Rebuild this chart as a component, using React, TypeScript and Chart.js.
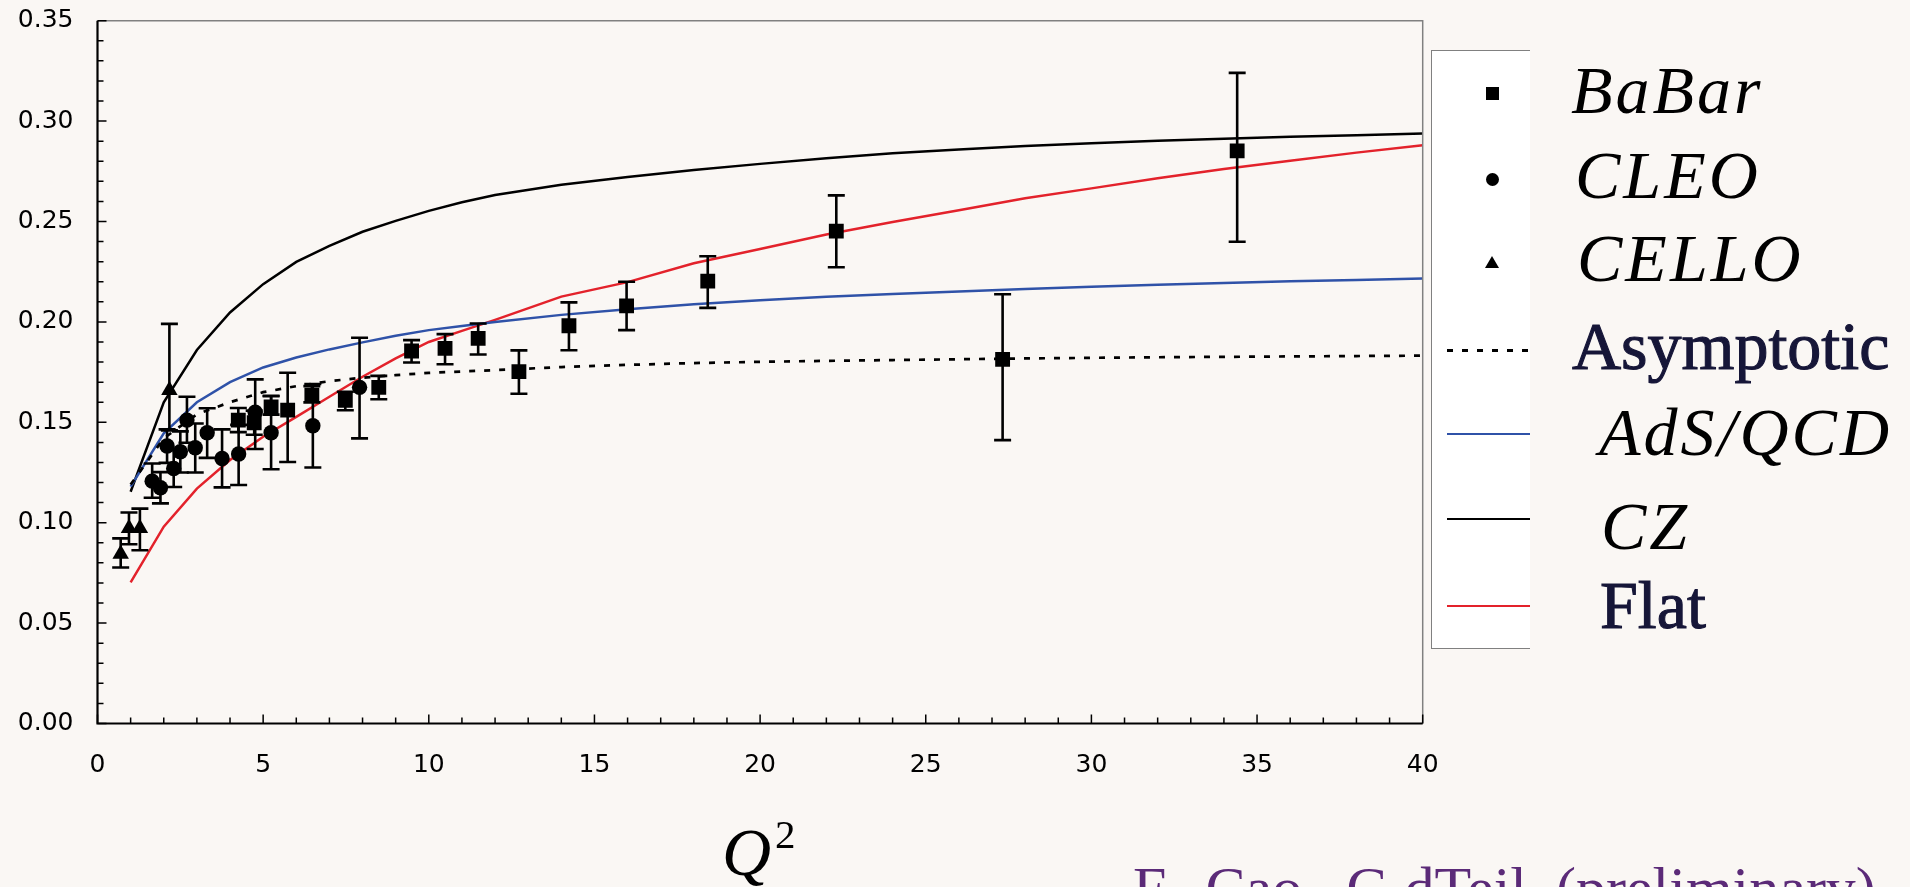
import React, { useEffect, useRef } from "react";
import { Chart, registerables } from "chart.js";

Chart.register(...registerables);

// ---------- data ----------
const curveQ2 = [1, 2, 3, 4, 5, 6, 7, 8, 9, 10, 11, 12, 14, 16, 18, 20, 22, 24, 26, 28, 30, 32, 34, 36, 38, 40];
const czValues = [0.1154, 0.16, 0.186, 0.2047, 0.2188, 0.2299, 0.2379, 0.2449, 0.2503, 0.2553, 0.2596, 0.2632, 0.2683, 0.2722, 0.2757, 0.2787, 0.2815, 0.284, 0.2859, 0.2876, 0.289, 0.2902, 0.2912, 0.2922, 0.293, 0.2938];
const adsValues = [0.118, 0.1445, 0.16, 0.17, 0.1773, 0.1823, 0.1863, 0.1898, 0.1931, 0.1959, 0.198, 0.2, 0.2035, 0.2063, 0.2088, 0.2108, 0.2125, 0.2139, 0.2152, 0.2164, 0.2175, 0.2185, 0.2194, 0.2202, 0.2209, 0.2216];
const flatValues = [0.0703, 0.098, 0.117, 0.1312, 0.1428, 0.1527, 0.1627, 0.1727, 0.1818, 0.19, 0.1955, 0.201, 0.2126, 0.2198, 0.2292, 0.2363, 0.2435, 0.2497, 0.2556, 0.2616, 0.2665, 0.2715, 0.2762, 0.2803, 0.2843, 0.288];
const asymptoticValues = [0.119, 0.142, 0.154, 0.16, 0.165, 0.168, 0.1705, 0.1722, 0.1735, 0.1746, 0.1753, 0.176, 0.1775, 0.1786, 0.1795, 0.1801, 0.1806, 0.181, 0.1814, 0.1818, 0.1821, 0.1824, 0.1826, 0.1828, 0.183, 0.1832];

const babarQ2 = [4.25, 4.73, 5.24, 5.74, 6.47, 7.48, 8.49, 9.48, 10.49, 11.49, 12.72, 14.23, 15.97, 18.42, 22.3, 27.32, 34.4];
const babarF = [0.1511, 0.1498, 0.1577, 0.1561, 0.1635, 0.161, 0.1674, 0.1855, 0.1868, 0.1918, 0.1752, 0.1981, 0.208, 0.2203, 0.2452, 0.1813, 0.2852];
const babarErrUp = [0.006, 0.006, 0.0055, 0.0186, 0.0045, 0.0042, 0.0057, 0.0054, 0.0071, 0.0074, 0.0106, 0.0116, 0.012, 0.0124, 0.0178, 0.0325, 0.0388];
const babarErrDown = [0.006, 0.006, 0.0039, 0.0259, 0.0036, 0.005, 0.0059, 0.0057, 0.0079, 0.008, 0.011, 0.0122, 0.0121, 0.0133, 0.018, 0.0402, 0.0453];

const cleoQ2 = [1.65, 1.9, 2.1, 2.3, 2.5, 2.7, 2.95, 3.31, 3.76, 4.26, 4.76, 5.24, 6.5, 7.91];
const cleoF = [0.1207, 0.1174, 0.1382, 0.127, 0.1353, 0.1511, 0.1373, 0.1448, 0.132, 0.1342, 0.155, 0.1448, 0.1483, 0.1674];
const cleoErrUp = [0.0088, 0.0078, 0.0083, 0.0095, 0.0102, 0.0116, 0.0121, 0.0122, 0.0145, 0.0145, 0.0164, 0.0182, 0.0208, 0.0247];
const cleoErrDown = [0.0083, 0.0078, 0.0084, 0.0092, 0.0103, 0.0113, 0.0123, 0.0125, 0.0144, 0.0154, 0.0183, 0.0182, 0.0208, 0.0254];

const celloQ2 = [0.7, 0.95, 1.28, 2.17];
const celloF = [0.0844, 0.0972, 0.0972, 0.166];
const celloErrUp = [0.0078, 0.0079, 0.0098, 0.033];
const celloErrDown = [0.0067, 0.0079, 0.0109, 0.02];

const xTickStep = 5;
const yTickStep = 0.05;

// ---------- style ----------
const BG = "#faf7f4";
const BLUE = "#2f52a8";
const RED = "#e3222b";
const NAVY = "#161638";

const toPoints = (xs: number[], ys: number[]) => xs.map((x, i) => ({ x, y: ys[i] }));

const errorBarPlugin = {
  id: "errorBars",
  afterDatasetsDraw(chart: any) {
    const { ctx, scales } = chart;
    const xs = scales.x;
    const ys = scales.y;
    ctx.save();
    ctx.strokeStyle = "#000";
    ctx.lineWidth = 2.6;
    chart.data.datasets.forEach((ds: any) => {
      if (!ds.errUp) return;
      ds.data.forEach((p: any, i: number) => {
        const px = xs.getPixelForValue(p.x);
        const top = ys.getPixelForValue(p.y + ds.errUp[i]);
        const bot = ys.getPixelForValue(p.y - ds.errDown[i]);
        ctx.beginPath();
        ctx.moveTo(px, top);
        ctx.lineTo(px, bot);
        ctx.moveTo(px - 8.5, top);
        ctx.lineTo(px + 8.5, top);
        ctx.moveTo(px - 8.5, bot);
        ctx.lineTo(px + 8.5, bot);
        ctx.stroke();
      });
    });
    ctx.restore();
  },
};

const framePlugin = {
  id: "frame",
  afterDatasetsDraw(chart: any) {
    const { ctx, chartArea: a, scales } = chart;
    const xs = scales.x;
    const ys = scales.y;
    ctx.save();
    ctx.strokeStyle = "#808080";
    ctx.lineWidth = 1.5;
    ctx.beginPath();
    ctx.moveTo(a.left, a.top);
    ctx.lineTo(a.right, a.top);
    ctx.lineTo(a.right, a.bottom);
    ctx.stroke();
    ctx.strokeStyle = "#000";
    ctx.lineWidth = 1.5;
    ctx.beginPath();
    for (let v = 0; v <= 40 + 1e-9; v += 1) {
      const px = xs.getPixelForValue(v);
      const len = v % xTickStep === 0 ? 9 : 6;
      ctx.moveTo(px, a.bottom);
      ctx.lineTo(px, a.bottom - len);
    }
    for (let k = 0; k <= 35; k++) {
      const py = ys.getPixelForValue(k * 0.01);
      const len = k % 5 === 0 ? 9 : 6;
      ctx.moveTo(a.left, py);
      ctx.lineTo(a.left + len, py);
    }
    ctx.stroke();
    ctx.lineWidth = 2.2;
    ctx.beginPath();
    ctx.moveTo(a.left, a.top);
    ctx.lineTo(a.left, a.bottom);
    ctx.lineTo(a.right, a.bottom);
    ctx.stroke();
    ctx.restore();
  },
};

const serifFont = "'Liberation Serif', 'Times New Roman', serif";

function Txt(props: { x: number; baseline: number; size: number; style?: React.CSSProperties; children: React.ReactNode }) {
  const { x, baseline, size, style, children } = props;
  return (
    <div
      style={{
        position: "absolute",
        left: x,
        top: baseline - 0.8375 * size,
        fontSize: size,
        lineHeight: 1,
        fontFamily: serifFont,
        whiteSpace: "nowrap",
        ...style,
      }}
    >
      {children}
    </div>
  );
}

export default function App() {
  const canvasRef = useRef<HTMLCanvasElement>(null);

  useEffect(() => {
    const canvas = canvasRef.current;
    if (!canvas) return;
    const lineDs = (label: string, ys: number[], color: string, width: number, dash: number[] = []) => ({
      label,
      data: toPoints(curveQ2, ys),
      showLine: true,
      borderColor: color,
      backgroundColor: color,
      borderWidth: width,
      borderDash: dash,
      pointRadius: 0,
      tension: 0,
      fill: false,
    });
    const chart = new Chart(canvas, {
      type: "scatter",
      data: {
        datasets: [
          {
            label: "BaBar",
            data: toPoints(babarQ2, babarF),
            pointStyle: "rect",
            pointRadius: 10.5,
            backgroundColor: "#000",
            borderWidth: 0,
            errUp: babarErrUp,
            errDown: babarErrDown,
          } as any,
          {
            label: "CLEO",
            data: toPoints(cleoQ2, cleoF),
            pointStyle: "circle",
            pointRadius: 7.7,
            backgroundColor: "#000",
            borderWidth: 0,
            errUp: cleoErrUp,
            errDown: cleoErrDown,
          } as any,
          {
            label: "CELLO",
            data: toPoints(celloQ2, celloF),
            pointStyle: "triangle",
            pointRadius: 9.5,
            backgroundColor: "#000",
            borderWidth: 0,
            errUp: celloErrUp,
            errDown: celloErrDown,
          } as any,
          lineDs("Asymptotic", asymptoticValues, "#000", 2.7, [6, 9]),
          lineDs("AdS/QCD", adsValues, BLUE, 2.5),
          lineDs("CZ", czValues, "#000", 2.5),
          lineDs("Flat", flatValues, RED, 2.5),
        ],
      },
      options: {
        animation: false,
        responsive: false,
        devicePixelRatio: 1,
        layout: { autoPadding: false, padding: { left: 0, top: 20.7, right: 487.3, bottom: 103.5 } },
        plugins: {
          legend: { display: false },
          tooltip: { enabled: false },
          title: { display: false },
        },
        scales: {
          x: {
            type: "linear",
            min: 0,
            max: 40,
            grid: { display: false, drawTicks: false },
            border: { display: false },
            ticks: {
              stepSize: xTickStep,
              padding: 27,
              color: "#000",
              font: { family: "'DejaVu Sans', Verdana, sans-serif", size: 25 },
            },
            afterFit: (axis: any) => {
              axis.height = 60;
              axis.paddingLeft = 0;
              axis.paddingRight = 0;
            },
          },
          y: {
            type: "linear",
            min: 0,
            max: 0.35,
            grid: { display: false, drawTicks: false },
            border: { display: false },
            ticks: {
              stepSize: yTickStep,
              padding: 24,
              color: "#000",
              font: { family: "'DejaVu Sans', Verdana, sans-serif", size: 25 },
              callback: (v: any) => Number(v).toFixed(2),
            },
            afterFit: (axis: any) => {
              axis.width = 97.5;
              axis.paddingTop = 0;
              axis.paddingBottom = 0;
            },
          },
        },
      } as any,
      plugins: [framePlugin, errorBarPlugin],
    });
    return () => chart.destroy();
  }, []);

  const legendItalic: React.CSSProperties = { fontStyle: "italic", letterSpacing: 3, color: "#000" };
  const legendUpright: React.CSSProperties = { color: NAVY, WebkitTextStroke: `1.1px ${NAVY}` };

  return (
    <div
      style={{
        position: "absolute",
        left: 0,
        top: 0,
        width: 1910,
        height: 887,
        overflow: "hidden",
        background: BG,
      }}
    >
      <canvas
        ref={canvasRef}
        width={1910}
        height={887}
        style={{ position: "absolute", left: 0, top: 0, width: 1910, height: 887 }}
      />

      {/* legend box */}
      <div
        style={{
          position: "absolute",
          left: 1431,
          top: 50,
          width: 99,
          height: 599,
          background: "#fff",
          borderLeft: "1.5px solid #808080",
          borderTop: "1.5px solid #808080",
          borderBottom: "1.5px solid #808080",
          boxSizing: "border-box",
        }}
      />
      {/* legend symbols */}
      <div style={{ position: "absolute", left: 1486, top: 86.5, width: 13, height: 13, background: "#000" }} />
      <div style={{ position: "absolute", left: 1485.5, top: 172.5, width: 13, height: 13, borderRadius: "50%", background: "#000" }} />
      <div
        style={{
          position: "absolute",
          left: 1485,
          top: 256,
          width: 0,
          height: 0,
          borderLeft: "7px solid transparent",
          borderRight: "7px solid transparent",
          borderBottom: "12px solid #000",
        }}
      />
      <div
        style={{
          position: "absolute",
          left: 1447,
          top: 348.5,
          width: 83,
          height: 3,
          background: "repeating-linear-gradient(to right, #000 0 6px, transparent 6px 15px)",
        }}
      />
      <div style={{ position: "absolute", left: 1447, top: 432.5, width: 83, height: 2.4, background: BLUE }} />
      <div style={{ position: "absolute", left: 1447, top: 518, width: 83, height: 2.4, background: "#000" }} />
      <div style={{ position: "absolute", left: 1447, top: 604.5, width: 83, height: 2.4, background: RED }} />

      {/* legend labels */}
      <Txt x={1571} baseline={113} size={68} style={legendItalic}>BaBar</Txt>
      <Txt x={1575} baseline={198} size={68} style={legendItalic}>CLEO</Txt>
      <Txt x={1577} baseline={281} size={68} style={legendItalic}>CELLO</Txt>
      <Txt x={1572} baseline={369} size={68} style={legendUpright}>Asymptotic</Txt>
      <Txt x={1599} baseline={455} size={68} style={legendItalic}>AdS/QCD</Txt>
      <Txt x={1601} baseline={549} size={68} style={legendItalic}>CZ</Txt>
      <Txt x={1600} baseline={628} size={68} style={legendUpright}>Flat</Txt>

      {/* x-axis title */}
      <Txt x={722} baseline={875} size={68} style={{ fontStyle: "italic", color: "#000" }}>Q</Txt>
      <Txt x={775} baseline={848} size={41} style={{ color: "#000" }}>2</Txt>

      {/* credit line (cut off at the bottom edge) */}
      <Txt x={1133} baseline={908} size={60} style={{ color: "#5b2a78", wordSpacing: 14 }}>
        F. Cao, G.dTeil (preliminary)
      </Txt>
    </div>
  );
}
